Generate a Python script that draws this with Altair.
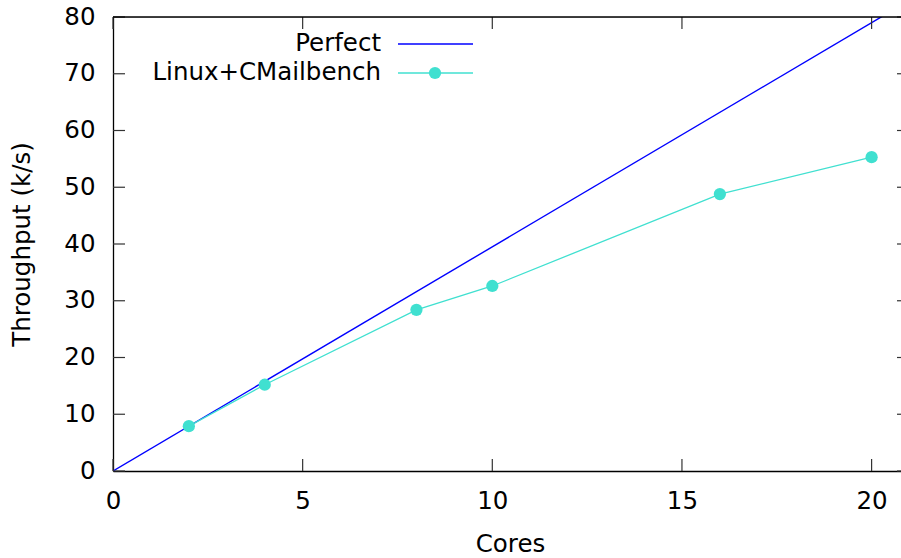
import altair as alt
import pandas as pd

# ---- data ----
cores = [2, 4, 8, 10, 16, 20]
linux_cmailbench = [7.9, 15.2, 28.4, 32.6, 48.8, 55.3]
perfect_cores = [0, 21]
perfect_per_core = 3.95
perfect_values = [c * perfect_per_core for c in perfect_cores]
x_ticks = [0, 5, 10, 15, 20]
y_ticks = [0, 10, 20, 30, 40, 50, 60, 70, 80]
series_names = ["Perfect", "Linux+CMailbench"]
series_colors = ["#0000ff", "#40e0d0"]

W, H = 788, 454
FONT = "DejaVu Sans"
FS = 24.5

linux_df = pd.DataFrame({"cores": cores, "thr": linux_cmailbench})
perfect_df = pd.DataFrame({"cores": perfect_cores, "thr": perfect_values})
xt_df = pd.DataFrame({"t": x_ticks})
yt_df = pd.DataFrame({"t": y_ticks})

xscale = alt.Scale(domain=[0, 20.775], nice=False, zero=False)
yscale = alt.Scale(domain=[0, 80], nice=False)

xaxis = alt.Axis(values=x_ticks, grid=False, ticks=False, tickSize=0, labelPadding=18,
                 labelFont=FONT, labelFontSize=FS, labelColor="#000",
                 domainColor="#000", domainWidth=1.3, labelFlush=False,
                 title="Cores", titleFont=FONT, titleFontSize=FS, titleFontWeight="normal",
                 titleColor="#000", titleX=397, titleY=73, titleBaseline="middle",
                 titleAlign="center")
yaxis = alt.Axis(values=y_ticks, grid=False, ticks=False, tickSize=0, labelPadding=18,
                 labelFont=FONT, labelFontSize=FS, labelColor="#000",
                 domainColor="#000", domainWidth=1.3, labelFlush=False,
                 title="Throughput (k/s)", titleFont=FONT, titleFontSize=FS,
                 titleFontWeight="normal", titleColor="#000", titleAngle=-90,
                 titleX=-91, titleY=H / 2, titleBaseline="middle", titleAlign="center")

perfect = alt.Chart(perfect_df).mark_line(color=series_colors[0], strokeWidth=1.4, clip=True).encode(
    x=alt.X("cores:Q", scale=xscale, axis=xaxis),
    y=alt.Y("thr:Q", scale=yscale, axis=yaxis),
)
linux_line = alt.Chart(linux_df).mark_line(color=series_colors[1], strokeWidth=1.3).encode(
    x=alt.X("cores:Q", scale=xscale),
    y=alt.Y("thr:Q", scale=yscale),
)
linux_pts = alt.Chart(linux_df).mark_circle(color=series_colors[1], opacity=1, size=150).encode(
    x=alt.X("cores:Q", scale=xscale),
    y=alt.Y("thr:Q", scale=yscale),
)

tick_color = "#333"
xt_bottom = alt.Chart(xt_df).mark_rule(color=tick_color, strokeWidth=1.2).encode(
    x=alt.X("t:Q", scale=xscale), y=alt.value(H), y2=alt.value(H - 12))
xt_top = alt.Chart(xt_df).mark_rule(color=tick_color, strokeWidth=1.2).encode(
    x=alt.X("t:Q", scale=xscale), y=alt.value(0), y2=alt.value(12))
yt_left = alt.Chart(yt_df).mark_rule(color=tick_color, strokeWidth=1.2).encode(
    y=alt.Y("t:Q", scale=yscale), x=alt.value(0), x2=alt.value(12))
yt_right = alt.Chart(yt_df).mark_rule(color=tick_color, strokeWidth=1.2).encode(
    y=alt.Y("t:Q", scale=yscale), x=alt.value(W - 4), x2=alt.value(W))
top_border = alt.Chart(xt_df.head(1)).mark_rule(color="#000", strokeWidth=1.3).encode(
    x=alt.value(0), x2=alt.value(W), y=alt.value(0))

# ---- legend (manual, gnuplot style: label then sample) ----
leg = []
rows_y = [27, 56]
for i, name in enumerate(series_names):
    ldf = pd.DataFrame({"label": [name]})
    leg.append(alt.Chart(ldf).mark_text(font=FONT, fontSize=FS, align="right", baseline="middle",
                                        color="#000").encode(
        text="label:N", x=alt.value(268), y=alt.value(rows_y[i])))
    leg.append(alt.Chart(ldf).mark_rule(color=series_colors[i], strokeWidth=1.4 if i == 0 else 1.3).encode(
        x=alt.value(285), x2=alt.value(360), y=alt.value(rows_y[i])))
leg.append(alt.Chart(pd.DataFrame({"label": [series_names[1]]})).mark_circle(
    color=series_colors[1], opacity=1, size=150).encode(x=alt.value(322), y=alt.value(rows_y[1])))

chart = alt.layer(
    perfect, linux_line, linux_pts, xt_bottom, xt_top, yt_left, yt_right, top_border, *leg
).properties(
    width=W, height=H,
    autosize=alt.AutoSizeParams(type="none"),
    padding={"left": 113, "top": 17, "right": 0, "bottom": 87},
).configure_view(stroke=None).configure(background="white")

chart.save("out.html", embed_options={"renderer": "svg", "actions": False})
